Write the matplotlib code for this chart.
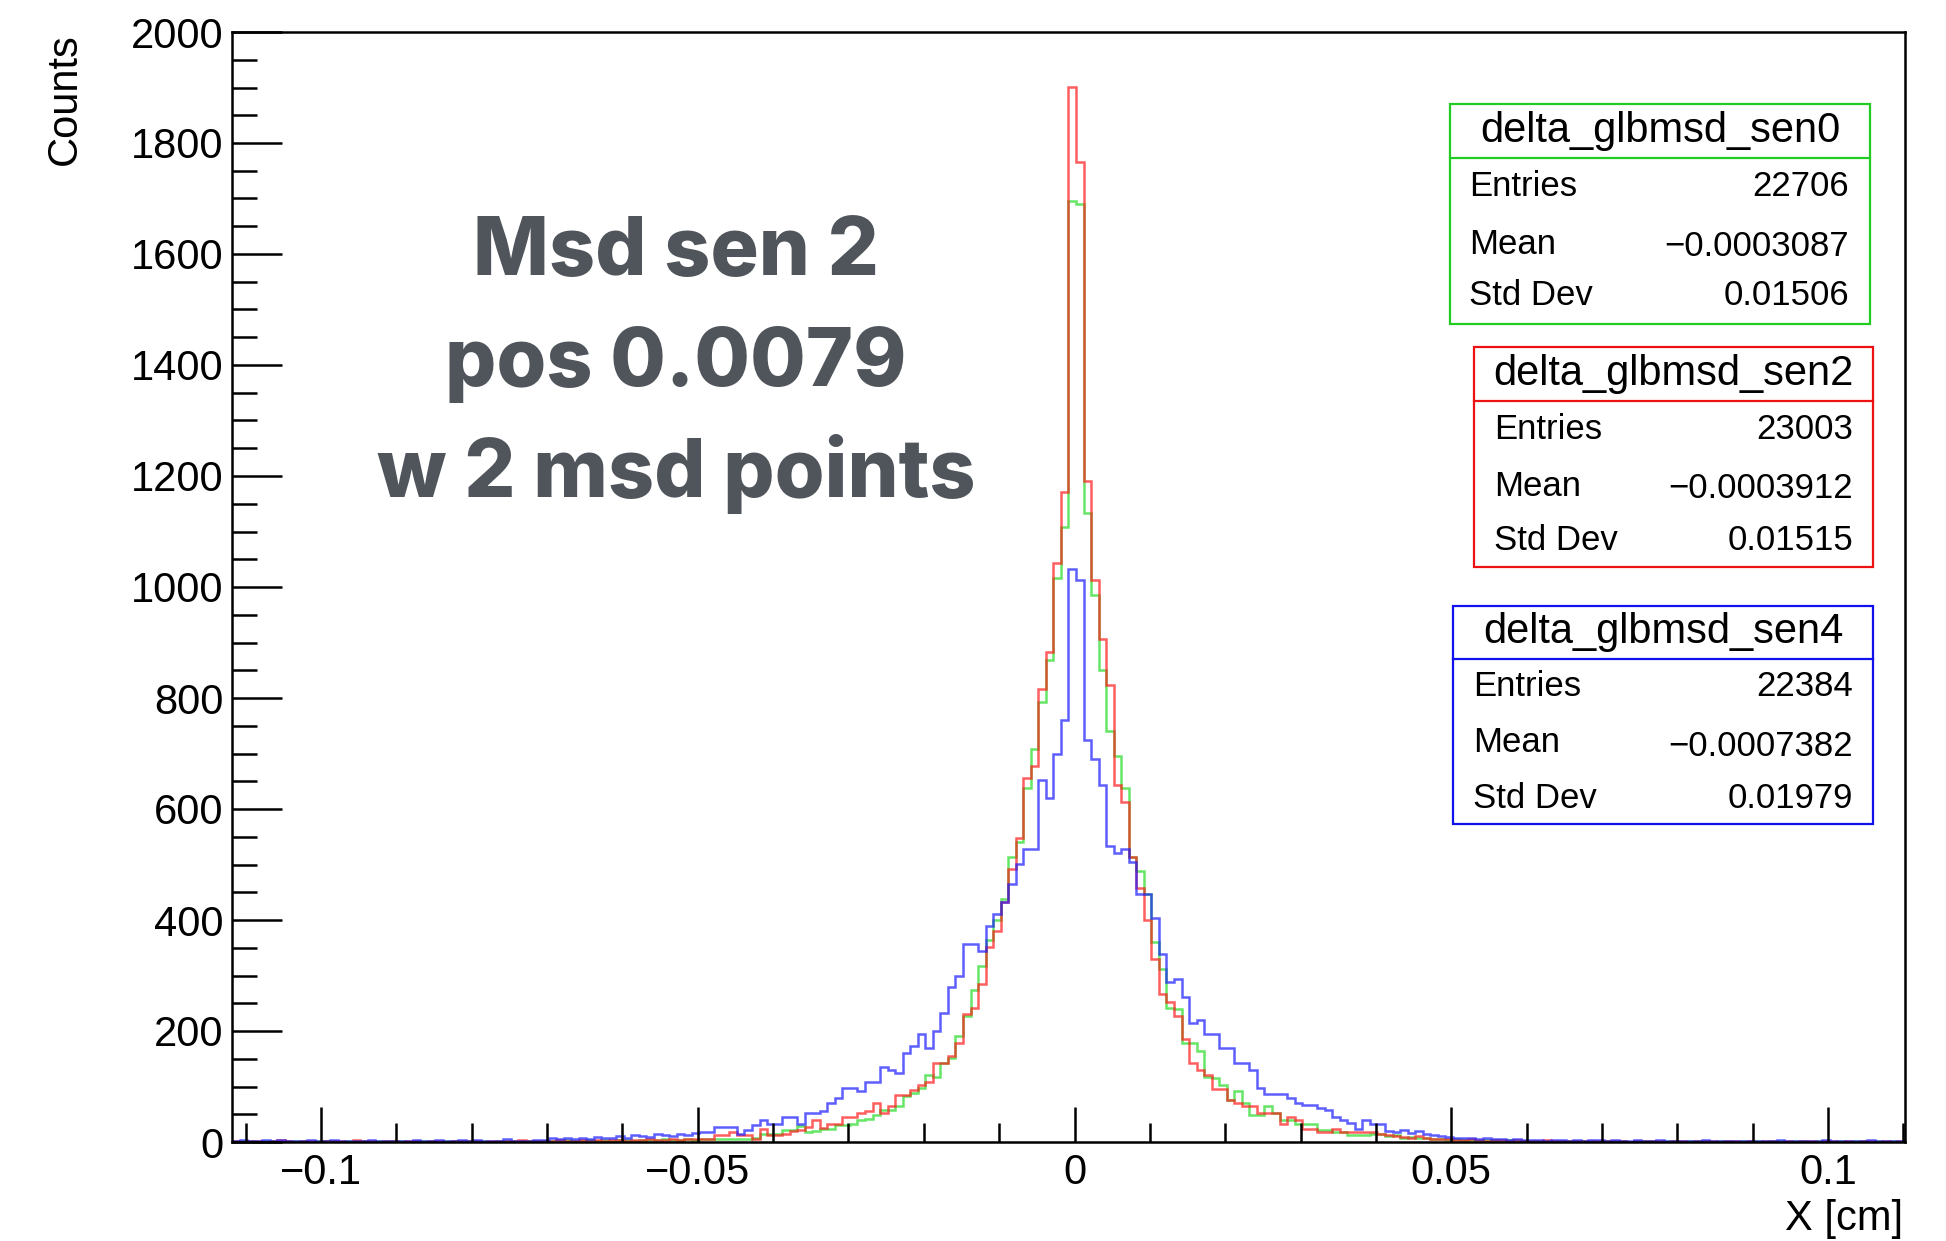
import numpy as np
import matplotlib.pyplot as plt
from matplotlib.patches import Rectangle
from matplotlib.ticker import MultipleLocator, FixedLocator, FixedFormatter

# binning of the three residual histograms (cm)
x_lo = -0.1118
bin_w = 0.001
n_bins = 222

# counts per bin, split in left tail / core / right tail
green_left = [0, 1, 1, 0, 2, 1, 0, 1, 1, 2, 0,
              1, 2, 1, 0, 1, 1, 2, 0, 1, 1,
              2, 1, 0, 1, 1, 2, 0, 1, 1, 2,
              1, 1, 2, 0, 1, 2, 1, 1, 2, 1,
              2, 1, 2, 3, 1, 2, 3, 2, 3, 2,
              3, 4, 2, 3, 4, 3, 5, 4, 3, 5, 4]
green_core = [6, 6, 5, 6, 6, 5, 6, 8, 15, 15,
              15, 21, 21, 28, 18, 20, 24, 24, 30, 30,
              32, 39, 42, 48, 58, 58, 64, 82, 88, 97,
              121, 118, 142, 152, 191, 227, 273, 318, 364, 400,
              438, 514, 540, 637, 708, 793, 869, 1016, 1109, 1696,
              1690, 1134, 986, 850, 741, 695, 637, 514, 488, 447,
              360, 312, 242, 239, 179, 179, 164, 118, 115, 103,
              76, 91, 70, 48, 48, 64, 52, 39, 39, 33,
              33, 33, 21, 21, 18, 18, 12, 12, 12, 15, 15]
green_right = [10, 12, 8, 9, 7, 8, 5, 6, 4,
               5, 3, 4, 2, 3, 3, 2, 3, 1, 2,
               1, 2, 2, 1, 2, 1, 1, 2, 1, 0,
               2, 1, 1, 0, 1, 1, 2, 0, 1, 1,
               0, 1, 1, 1, 0, 2, 1, 0, 1, 1,
               1, 0, 1, 1, 0, 1, 1, 0, 1, 0,
               0, 1, 0, 1, 1, 0, 1, 0, 1, 0]

red_left = [1, 0, 2, 1, 0, 1, 3, 1, 0, 2, 1,
            0, 1, 2, 1, 0, 3, 1, 1, 0, 2,
            1, 0, 1, 2, 0, 1, 1, 0, 2, 1,
            1, 2, 0, 1, 1, 2, 1, 3, 1, 2,
            2, 1, 3, 2, 1, 3, 2, 4, 2, 3,
            3, 2, 4, 3, 5, 3, 4, 6, 3, 5, 6]
red_core = [6, 6, 12, 12, 18, 12, 12, 6, 24, 13,
            13, 15, 20, 22, 27, 40, 26, 33, 33, 45,
            45, 52, 55, 70, 52, 64, 85, 85, 94, 103,
            109, 142, 142, 155, 179, 230, 242, 285, 351, 380,
            432, 492, 547, 656, 677, 817, 882, 1043, 1172, 1901,
            1766, 1191, 1012, 907, 823, 643, 612, 514, 457, 400,
            330, 267, 252, 227, 185, 142, 130, 121, 95, 95,
            76, 70, 64, 64, 52, 52, 52, 33, 45, 39,
            24, 24, 18, 18, 24, 18, 18, 18, 18, 18, 15]
red_right = [12, 10, 9, 8, 10, 7, 6, 5, 6,
             4, 3, 5, 3, 2, 4, 3, 2, 3, 2,
             2, 1, 3, 2, 1, 2, 1, 2, 1, 1,
             1, 2, 1, 0, 1, 2, 1, 1, 0, 1,
             1, 0, 1, 1, 2, 0, 1, 1, 0, 1,
             0, 1, 1, 0, 1, 0, 1, 2, 0, 1,
             1, 0, 1, 0, 1, 1, 0, 1, 0, 1]

blue_left = [2, 3, 1, 2, 3, 1, 4, 2, 1, 2, 3,
             2, 1, 3, 2, 1, 2, 1, 3, 2, 2,
             1, 2, 2, 3, 1, 2, 4, 2, 2, 3,
             2, 3, 2, 1, 2, 5, 2, 1, 2, 3,
             4, 7, 5, 8, 5, 7, 6, 9, 8, 7,
             10, 8, 13, 11, 9, 14, 12, 10, 15, 13, 17]
blue_core = [18, 18, 27, 27, 27, 15, 21, 30, 39, 32,
             32, 45, 45, 33, 52, 52, 55, 71, 79, 97,
             97, 91, 109, 109, 136, 130, 124, 161, 173, 194,
             170, 200, 233, 279, 299, 356, 356, 345, 390, 410,
             432, 464, 501, 528, 528, 652, 620, 700, 760, 1032,
             1012, 724, 690, 644, 534, 521, 528, 504, 447, 447,
             403, 339, 288, 294, 261, 215, 220, 194, 194, 170,
             170, 142, 142, 130, 97, 87, 87, 87, 79, 70,
             67, 67, 62, 58, 45, 39, 35, 24, 39, 33, 33]
blue_right = [20, 18, 21, 16, 19, 14, 12, 10, 9,
              8, 7, 8, 6, 7, 5, 6, 4, 5, 4,
              4, 3, 2, 4, 3, 2, 3, 2, 4, 3,
              2, 3, 2, 1, 3, 2, 2, 3, 1, 2,
              2, 1, 2, 3, 1, 2, 1, 2, 1, 2,
              1, 2, 1, 3, 1, 2, 1, 1, 2, 3,
              1, 2, 1, 2, 1, 3, 1, 2, 1, 2]

# stat box contents
box_titles = ['delta_glbmsd_sen0', 'delta_glbmsd_sen2', 'delta_glbmsd_sen4']
box_entries = ['22706', '23003', '22384']
box_means = ['\u22120.0003087', '\u22120.0003912', '\u22120.0007382']
box_stds = ['0.01506', '0.01515', '0.01979']

x_major = [-0.1, -0.05, 0, 0.05, 0.1]
x_major_labels = ['\u22120.1', '\u22120.05', '0', '0.05', '0.1']

notes = ['Msd sen 2', 'pos 0.0079', 'w 2 msd points']

edges = x_lo + bin_w * np.arange(n_bins + 1)
green = np.array(green_left + green_core + green_right)
red = np.array(red_left + red_core + red_right)
blue = np.array(blue_left + blue_core + blue_right)

W, H = 1946, 1241
fig = plt.figure(figsize=(W / 100, H / 100), dpi=100)
plt.rcParams['font.family'] = ['Liberation Sans', 'DejaVu Sans']

# axes frame in pixels: left 232, right 1905, top 32, bottom 1142
ax = fig.add_axes([232 / W, 1 - 1142 / H, (1905 - 232) / W, (1142 - 32) / H])

col_green = '#22cc22'
col_red = '#ee1111'
col_blue = '#1111ee'

ax.stairs(green, edges, color='#33dd33', lw=1.8, alpha=0.75)
ax.stairs(red, edges, color='#ff1a1a', lw=1.8, alpha=0.7)
ax.stairs(blue, edges, color='#1a1aff', lw=1.8, alpha=0.7)

ax.set_xlim(edges[0], edges[-1])
ax.set_ylim(0, 2000)

for s in ax.spines.values():
    s.set_linewidth(1.8)

ax.xaxis.set_major_locator(FixedLocator(x_major))
ax.xaxis.set_major_formatter(FixedFormatter(x_major_labels))
ax.xaxis.set_minor_locator(MultipleLocator(0.01))
ax.yaxis.set_major_locator(MultipleLocator(200))
ax.yaxis.set_minor_locator(MultipleLocator(50))

ax.tick_params(axis='both', which='both', direction='in', top=False, right=False,
               width=1.8, labelsize=30)
ax.tick_params(axis='y', which='major', length=36, pad=6)
ax.tick_params(axis='y', which='minor', length=18)
ax.tick_params(axis='x', which='major', length=25, pad=8)
ax.tick_params(axis='x', which='minor', length=14)

# axis titles, ROOT style at the ends of the axes
fig.text(65 / W, 1 - 33 / H, 'Counts', rotation=90, ha='center', va='top', fontsize=30)
fig.text(1903 / W, 1 - 1219 / H, 'X [cm]', ha='right', va='center', fontsize=30)

# big annotation
for i, line in enumerate(notes):
    fig.text(676 / W, 1 - (254 + 110 * i) / H, line, ha='center', va='center',
             fontsize=58, fontweight='heavy', color='#50555c',
             family=['Inter', 'DejaVu Sans'])


def stat_box(x0, x1, y0, y1, sep, xl, xr, rows, title, vals, color):
    fx = lambda x: x / W
    fy = lambda y: 1 - y / H
    fig.patches.append(Rectangle((fx(x0), fy(y1)), fx(x1) - fx(x0), fy(y0) - fy(y1),
                                 transform=fig.transFigure, fill=True, facecolor='white',
                                 edgecolor=color, lw=1.6, zorder=5))
    fig.lines.append(plt.Line2D([fx(x0), fx(x1)], [fy(sep), fy(sep)],
                                transform=fig.transFigure, color=color, lw=1.6, zorder=6))
    fig.text(fx((x0 + x1) / 2), fy((y0 + sep) / 2), title, ha='center', va='center',
             fontsize=30, zorder=7)
    for name, val, ry in zip(['Entries', 'Mean', 'Std Dev'], vals, rows):
        fig.text(fx(xl), fy(ry), name, ha='left', va='center', fontsize=25, zorder=7)
        fig.text(fx(xr), fy(ry + (3 if name == 'Mean' else 0)), val, ha='right',
                 va='center', fontsize=25, zorder=7)


stat_box(1450, 1870, 104, 324, 158, 1469, 1849, [186, 244, 295], box_titles[0],
         [box_entries[0], box_means[0], box_stds[0]], col_green)
stat_box(1474, 1873, 347, 567, 401, 1494, 1853, [429, 486, 540], box_titles[1],
         [box_entries[1], box_means[1], box_stds[1]], col_red)
stat_box(1453, 1873, 606, 824, 659, 1473, 1853, [686, 743, 798], box_titles[2],
         [box_entries[2], box_means[2], box_stds[2]], col_blue)

fig.savefig('out.png', dpi=100, facecolor='white')
